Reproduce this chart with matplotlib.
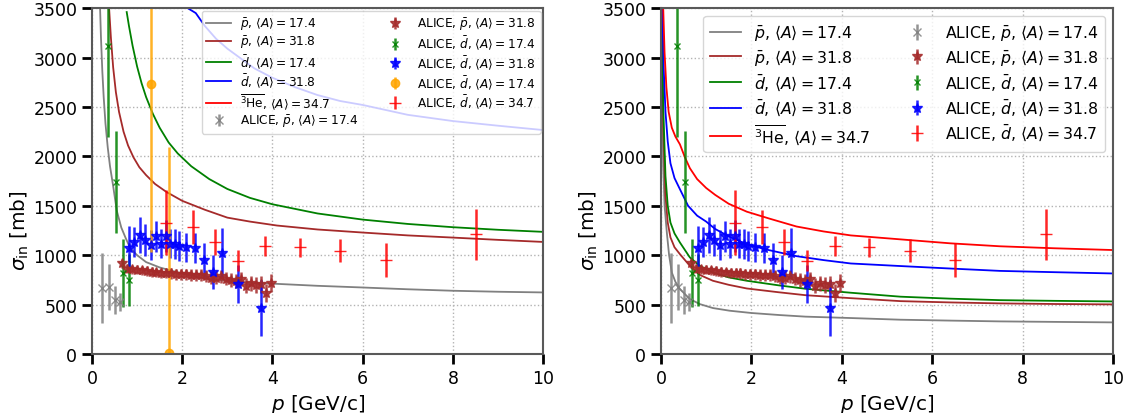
import numpy as np
import matplotlib.pyplot as plt

# ---- ALICE data (same points in both panels) ----
p_pbar17 = [0.23, 0.38, 0.51, 0.62]
s_pbar17 = [667, 680, 545, 528]
e_pbar17 = [350, 230, 140, 90]

p_pbar32 = [0.66, 0.77, 0.88, 0.99, 1.10, 1.21, 1.32, 1.43, 1.54, 1.65, 1.76,
            1.87, 1.98, 2.09, 2.20, 2.31, 2.42, 2.53, 2.64, 2.75, 2.86, 2.97,
            3.08, 3.19, 3.30, 3.41, 3.52, 3.63, 3.74, 3.85, 3.96]
s_pbar32 = [919, 865, 859, 852, 845, 838, 832, 825, 822, 818, 815,
            808, 808, 808, 801, 801, 798, 785, 774, 774, 785, 764,
            751, 741, 758, 690, 714, 700, 707, 616, 717]
e_pbar32 = [45, 45, 45, 45, 45, 48, 48, 50, 50, 52, 52,
            55, 55, 55, 58, 58, 60, 60, 62, 62, 65, 65,
            68, 70, 72, 75, 78, 80, 85, 88, 90]

p_dbar17 = [0.36, 0.53, 0.68, 0.81]
s_dbar17 = [3120, 1740, 818, 747]
e_dbar17 = [920, 520, 345, 260]

p_dbar32 = [0.82, 0.93, 1.07, 1.18, 1.30, 1.42, 1.53, 1.64, 1.73, 1.84, 1.93,
            2.09, 2.29, 2.49, 2.68, 2.88, 3.24, 3.75]
s_dbar32 = [1071, 1134, 1205, 1152, 1104, 1189, 1118, 1195, 1118, 1111, 1094,
            1078, 1071, 953, 831, 1027, 707, 465]
e_dbar32 = [220, 150, 185, 160, 150, 160, 150, 160, 150, 150, 150,
            150, 150, 170, 170, 250, 190, 280]

p_orange = [1.31, 1.70]
s_orange = [2730, 10]
e_orange = [1700, 2080]

p_he3 = [1.64, 2.24, 2.73, 3.24, 3.84, 4.60, 5.50, 6.51, 8.51]
s_he3 = [1330, 1286, 1134, 943, 1094, 1078, 1044, 949, 1212]
e_he3 = [330, 170, 130, 105, 105, 95, 117, 173, 260]

# ---- model curves, left panel ----
lp_gray = [0.18, 0.20, 0.23, 0.26, 0.30, 0.35, 0.40, 0.47, 0.55, 0.65, 0.75, 0.85,
           1.0, 1.2, 1.5, 1.9, 2.5, 3.2, 4.0, 5.0, 6.0, 7.0, 8.0, 9.0, 10.0]
ls_gray = [3500, 3200, 2860, 2600, 2330, 2090, 1900, 1700, 1450, 1280, 1170, 1070,
           1000, 930, 876, 825, 765, 730, 712, 690, 673, 655, 640, 630, 623]
lp_brown = [0.38, 0.42, 0.47, 0.53, 0.60, 0.70, 0.80, 0.92, 1.05, 1.2, 1.4, 1.65,
            2.0, 2.5, 3.0, 3.5, 4.1, 5.0, 6.0, 7.0, 8.0, 9.0, 10.0]
ls_brown = [3500, 3200, 2900, 2650, 2450, 2250, 2110, 1990, 1890, 1810, 1720, 1640,
            1550, 1460, 1380, 1340, 1300, 1260, 1229, 1200, 1178, 1155, 1134]
lp_green = [0.77, 0.82, 0.9, 1.0, 1.1, 1.2, 1.35, 1.5, 1.7, 1.9, 2.2, 2.6, 3.0,
            3.5, 4.0, 5.0, 6.0, 7.0, 8.0, 9.0, 10.0]
ls_green = [3460, 3320, 3120, 2910, 2740, 2600, 2430, 2290, 2140, 2030, 1900, 1770,
            1670, 1580, 1515, 1422, 1360, 1316, 1283, 1257, 1236]
lp_blue = [2.12, 2.3, 2.5, 2.75, 3.0, 3.3, 3.6, 4.0, 4.5, 5.0, 5.5, 6.0, 7.0, 8.0,
           9.0, 10.0]
ls_blue = [3500, 3450, 3320, 3190, 3090, 2990, 2890, 2795, 2700, 2620, 2560, 2520,
           2420, 2357, 2310, 2266]
# 3He curve lies above the plotted range in the left panel
lp_red = [2.0, 4.0, 6.0, 8.0, 10.0]
ls_red = [6200, 4600, 4100, 3850, 3700]

# ---- model curves, right panel ----
rp_gray = [0.01, 0.02, 0.03, 0.05, 0.08, 0.13, 0.18, 0.24, 0.32, 0.42, 0.64, 0.86,
           1.15, 1.52, 2.0, 2.63, 3.2, 4.2, 5.3, 6.4, 7.5, 8.7, 10.0]
rs_gray = [3500, 3000, 2500, 1900, 1500, 1229, 1000, 825, 730, 657, 556, 505,
           465, 438, 415, 394, 378, 364, 347, 338, 330, 325, 320]
rp_curve = [0.02, 0.05, 0.1, 0.15, 0.21, 0.3, 0.42, 0.64, 0.86, 1.15, 1.5, 1.9,
            2.6, 3.2, 4.2, 5.3, 6.4, 7.5, 8.7, 10.0]
rs_brown = [3500, 2300, 1600, 1330, 1180, 1080, 1010, 892, 800, 741, 700, 663,
            625, 595, 565, 535, 522, 512, 506, 502]
rs_green = [3500, 2500, 1800, 1500, 1330, 1220, 1128, 977, 892, 825, 775, 741,
            695, 660, 620, 580, 560, 545, 538, 532]
rp_blue = [0.03, 0.06, 0.1, 0.15, 0.21, 0.3, 0.42, 0.6, 0.8, 1.0, 1.2, 1.5, 1.9,
           2.4, 3.0, 3.6, 4.2, 5.3, 6.4, 7.5, 8.7, 10.0]
rs_blue = [3500, 2900, 2450, 2150, 1930, 1780, 1667, 1500, 1400, 1340, 1265, 1190,
           1110, 1050, 990, 950, 916, 890, 865, 841, 828, 815]
rp_red = [0.05, 0.08, 0.12, 0.17, 0.24, 0.32, 0.42, 0.53, 0.64, 0.8, 1.0, 1.2, 1.5,
          1.9, 2.4, 3.0, 3.6, 4.2, 5.3, 6.4, 7.5, 8.7, 10.0]
rs_red = [3500, 3050, 2700, 2450, 2290, 2200, 2121, 1990, 1880, 1770, 1680, 1610,
          1520, 1440, 1370, 1290, 1240, 1200, 1160, 1120, 1090, 1070, 1052]

lab_pbar17 = r'$\bar{p}$, $\langle A\rangle=17.4$'
lab_pbar32 = r'$\bar{p}$, $\langle A\rangle=31.8$'
lab_dbar17 = r'$\bar{d}$, $\langle A\rangle=17.4$'
lab_dbar32 = r'$\bar{d}$, $\langle A\rangle=31.8$'
lab_he3 = r'$\overline{^{3}\mathrm{He}}$, $\langle A\rangle=34.7$'


def draw_data(ax, with_orange):
    kw = dict(linestyle='none', elinewidth=1.8, alpha=0.85)
    ax.errorbar(p_pbar17, s_pbar17, yerr=e_pbar17, fmt='x', color='gray', ms=6,
                label=r'ALICE, $\bar{p}$, $\langle A\rangle=17.4$', **kw)
    ax.errorbar(p_pbar32, s_pbar32, yerr=e_pbar32, fmt='*', color='brown', ms=7,
                label=r'ALICE, $\bar{p}$, $\langle A\rangle=31.8$', **kw)
    ax.errorbar(p_dbar17, s_dbar17, yerr=e_dbar17, fmt='x', color='green', ms=5,
                label=r'ALICE, $\bar{d}$, $\langle A\rangle=17.4$', **kw)
    ax.errorbar(p_dbar32, s_dbar32, yerr=e_dbar32, fmt='*', color='blue', ms=7,
                label=r'ALICE, $\bar{d}$, $\langle A\rangle=31.8$', **kw)
    if with_orange:
        ax.errorbar(p_orange, s_orange, yerr=e_orange, fmt='o', color='orange', ms=6,
                    label=r'ALICE, $\bar{d}$, $\langle A\rangle=17.4$', **kw)
    ax.errorbar(p_he3, s_he3, yerr=e_he3, fmt='_', color='red', ms=9,
                label=r'ALICE, $\bar{d}$, $\langle A\rangle=34.7$', **kw)


def style(ax):
    ax.set_xlim(0, 10)
    ax.set_ylim(0, 3500)
    ax.set_xticks([0, 2, 4, 6, 8, 10])
    ax.set_yticks(np.arange(0, 3501, 500))
    ax.grid(True, linestyle=':', color='0.7', linewidth=1)
    ax.tick_params(direction='out', length=7, width=2, labelsize=12.5)
    for sp in ax.spines.values():
        sp.set_color('0.35')
        sp.set_linewidth(1.5)
    ax.set_xlabel(r'$p$ [GeV/c]', fontsize=14.4)
    ax.set_ylabel(r'$\sigma_{\mathrm{in}}$ [mb]', fontsize=14.4)
    ax.yaxis.set_label_coords(-0.135, 0.36)


fig = plt.figure(figsize=(11.31, 4.14), dpi=100)
ax1 = fig.add_axes([0.0813, 0.1425, 0.399, 0.8355])
ax2 = fig.add_axes([0.5844, 0.1425, 0.3996, 0.8355])

lw = 1.3
ax1.plot(lp_gray, ls_gray, color='gray', lw=lw, label=lab_pbar17)
ax1.plot(lp_brown, ls_brown, color='brown', lw=lw, label=lab_pbar32)
ax1.plot(lp_green, ls_green, color='green', lw=lw, label=lab_dbar17)
ax1.plot(lp_blue, ls_blue, color='blue', lw=lw, label=lab_dbar32)
ax1.plot(lp_red, ls_red, color='red', lw=lw, label=lab_he3)
draw_data(ax1, True)
style(ax1)
ax1.legend(loc='upper right', ncol=2, fontsize=8.7, labelspacing=0.15,
           borderaxespad=0.2)

ax2.plot(rp_gray, rs_gray, color='gray', lw=lw, label=lab_pbar17)
ax2.plot(rp_curve, rs_brown, color='brown', lw=lw, label=lab_pbar32)
ax2.plot(rp_curve, rs_green, color='green', lw=lw, label=lab_dbar17)
ax2.plot(rp_blue, rs_blue, color='blue', lw=lw, label=lab_dbar32)
ax2.plot(rp_red, rs_red, color='red', lw=lw, label=lab_he3)
draw_data(ax2, False)
style(ax2)
ax2.legend(loc='upper right', ncol=2, fontsize=11.3, labelspacing=0.3)

fig.savefig('out.png', dpi=100)
